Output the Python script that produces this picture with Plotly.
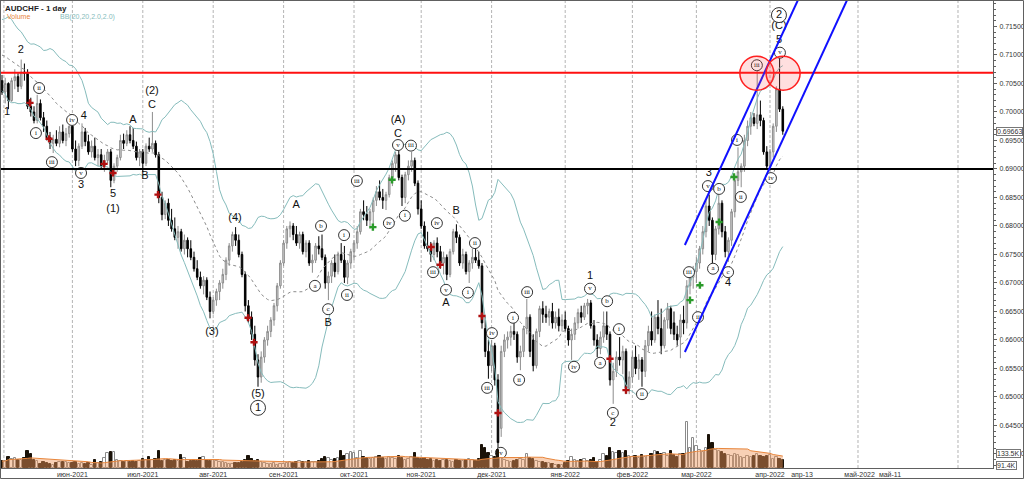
import plotly.graph_objects as go
import pandas as pd

# ---------------- DATA (daily bars, AUDCHF) : (open, high, low, close) ----------------
may21 = [(.7055,.7065,.7030,.7035),(.7035,.7060,.7015,.7050),(.7050,.7052,.7005,.7020),(.7020,.7060,.7018,.7055),
         (.7055,.7075,.7040,.7062),(.7062,.7068,.7035,.7045),(.7045,.7092,.7040,.7070),(.7070,.7085,.7055,.7068),
         (.7068,.7075,.7005,.7010),(.7010,.7025,.6992,.7000),(.7000,.7010,.6980,.6985),(.6985,.7030,.6980,.7015),
         (.7015,.7022,.6985,.6990),(.6990,.7000,.6965,.6975),(.6975,.6985,.6950,.6955),(.6955,.6965,.6935,.6945),
         (.6945,.6960,.6928,.6952),(.6952,.6968,.6940,.6945),(.6945,.6975,.6938,.6965),(.6965,.6978,.6945,.6950),
         (.6950,.6972,.6940,.6962),(.6962,.6976,.6955,.6975)]
jun21 = [(.6975,.6978,.6930,.6935),(.6935,.6950,.6905,.6915),(.6915,.6945,.6905,.6940),(.6940,.6980,.6935,.6965),
         (.6965,.6972,.6940,.6948),(.6948,.6960,.6925,.6930),(.6930,.6950,.6920,.6940),(.6940,.6955,.6915,.6920),
         (.6920,.6935,.6905,.6925),(.6925,.6935,.6900,.6905),(.6905,.6925,.6895,.6915),(.6915,.6935,.6910,.6930),
         (.6930,.6935,.6868,.6880),(.6880,.6910,.6875,.6905),(.6905,.6925,.6895,.6920),(.6920,.6960,.6915,.6950),
         (.6950,.6962,.6935,.6945),(.6945,.6968,.6940,.6960),(.6960,.6975,.6945,.6950),(.6950,.6972,.6935,.6940),
         (.6940,.6948,.6915,.6920),(.6920,.6935,.6905,.6930)]
jul21 = [(.6930,.6935,.6895,.6910),(.6910,.6945,.6905,.6940),(.6940,.6955,.6930,.6935),(.6935,.7000,.6930,.6945),
         (.6945,.6950,.6920,.6925),(.6925,.6930,.6840,.6850),(.6850,.6860,.6810,.6820),(.6820,.6845,.6812,.6840),
         (.6840,.6848,.6800,.6810),(.6810,.6830,.6790,.6795),(.6795,.6815,.6775,.6780),(.6780,.6800,.6760,.6790),
         (.6790,.6795,.6755,.6760),(.6760,.6785,.6750,.6775),(.6775,.6780,.6745,.6760),(.6760,.6775,.6740,.6745),
         (.6745,.6755,.6720,.6725),(.6725,.6740,.6705,.6710),(.6710,.6720,.6690,.6695),(.6695,.6712,.6680,.6705),
         (.6705,.6710,.6670,.6675),(.6675,.6685,.6638,.6650)]
aug21 = [(.6650,.6675,.6645,.6670),(.6670,.6690,.6660,.6685),(.6685,.6705,.6670,.6700),(.6700,.6725,.6690,.6715),
         (.6715,.6745,.6705,.6740),(.6740,.6770,.6730,.6765),(.6765,.6790,.6755,.6785),(.6785,.6798,.6765,.6775),
         (.6775,.6785,.6745,.6750),(.6750,.6755,.6710,.6715),(.6715,.6720,.6650,.6660),(.6660,.6670,.6630,.6640),
         (.6640,.6650,.6600,.6610),(.6610,.6625,.6555,.6565),(.6565,.6575,.6518,.6535),(.6535,.6580,.6525,.6570),
         (.6570,.6605,.6560,.6600),(.6600,.6625,.6590,.6615),(.6615,.6640,.6605,.6635),(.6635,.6665,.6625,.6660),
         (.6660,.6700,.6650,.6695),(.6695,.6740,.6690,.6735)]
sep21 = [(.6735,.6775,.6730,.6770),(.6770,.6800,.6760,.6795),(.6795,.6808,.6780,.6800),(.6800,.6805,.6775,.6785),
         (.6785,.6800,.6765,.6770),(.6770,.6790,.6760,.6785),(.6785,.6790,.6750,.6755),(.6755,.6775,.6745,.6770),
         (.6770,.6775,.6730,.6735),(.6735,.6750,.6718,.6740),(.6740,.6770,.6735,.6765),(.6765,.6782,.6750,.6760),
         (.6760,.6785,.6740,.6745),(.6745,.6750,.6690,.6700),(.6700,.6720,.6670,.6712),(.6712,.6740,.6700,.6735),
         (.6735,.6750,.6710,.6720),(.6720,.6755,.6715,.6750),(.6750,.6770,.6735,.6740),(.6740,.6765,.6700,.6710),
         (.6710,.6740,.6698,.6735),(.6735,.6760,.6725,.6755)]
oct21 = [(.6755,.6775,.6740,.6770),(.6770,.6800,.6760,.6790),(.6790,.6830,.6785,.6825),(.6825,.6845,.6810,.6820),
         (.6820,.6835,.6800,.6810),(.6810,.6830,.6795,.6825),(.6825,.6850,.6800,.6845),(.6845,.6870,.6835,.6860),
         (.6860,.6880,.6845,.6850),(.6850,.6865,.6830,.6845),(.6845,.6860,.6828,.6855),(.6855,.6890,.6850,.6885),
         (.6885,.6915,.6870,.6910),(.6910,.6930,.6895,.6925),(.6925,.6932,.6880,.6885),(.6885,.6890,.6835,.6850),
         (.6850,.6895,.6840,.6890),(.6890,.6915,.6880,.6905),(.6905,.6930,.6895,.6915),(.6915,.6920,.6870,.6875),
         (.6875,.6880,.6820,.6830)]
nov21 = [(.6830,.6845,.6795,.6800),(.6800,.6808,.6760,.6765),(.6765,.6790,.6755,.6760),(.6760,.6772,.6737,.6750),
         (.6750,.6775,.6740,.6770),(.6770,.6780,.6745,.6755),(.6755,.6765,.6725,.6735),(.6735,.6755,.6715,.6745),
         (.6745,.6750,.6705,.6715),(.6715,.6760,.6710,.6755),(.6755,.6795,.6750,.6790),(.6790,.6803,.6770,.6780),
         (.6780,.6785,.6730,.6735),(.6735,.6760,.6725,.6750),(.6750,.6755,.6715,.6720),(.6720,.6740,.6700,.6735),
         (.6735,.6760,.6725,.6745),(.6745,.6760,.6735,.6740),(.6740,.6755,.6725,.6730),(.6730,.6735,.6620,.6630),
         (.6620,.6640,.6570,.6580),(.6580,.6600,.6532,.6555)]
dec21 = [(.6555,.6600,.6545,.6590),(.6590,.6595,.6520,.6530),(.6530,.6540,.6400,.6420),(.6445,.6590,.6430,.6580),
         (.6580,.6610,.6570,.6600),(.6600,.6615,.6585,.6605),(.6605,.6625,.6590,.6615),(.6615,.6640,.6600,.6610),
         (.6610,.6615,.6560,.6570),(.6570,.6590,.6547,.6580),(.6580,.6625,.6570,.6620),(.6620,.6672,.6610,.6640),
         (.6640,.6645,.6570,.6580),(.6600,.6610,.6545,.6555),(.6555,.6620,.6550,.6615),(.6615,.6660,.6605,.6655),
         (.6655,.6668,.6630,.6645),(.6645,.6660,.6630,.6640),(.6640,.6655,.6625,.6650),(.6650,.6665,.6620,.6630),
         (.6630,.6650,.6620,.6640),(.6640,.6655,.6615,.6625),(.6625,.6645,.6615,.6635)]
jan22 = [(.6635,.6650,.6615,.6620),(.6620,.6625,.6590,.6600),(.6600,.6620,.6565,.6610),(.6610,.6640,.6600,.6630),
         (.6630,.6655,.6620,.6648),(.6648,.6660,.6630,.6640),(.6640,.6665,.6635,.6660),(.6660,.6672,.6645,.6665),
         (.6665,.6670,.6620,.6625),(.6625,.6635,.6590,.6600),(.6600,.6610,.6570,.6585),(.6585,.6615,.6575,.6605),
         (.6605,.6650,.6595,.6625),(.6625,.6650,.6600,.6610),(.6610,.6615,.6520,.6530),(.6530,.6560,.6488,.6545),
         (.6545,.6580,.6535,.6570),(.6570,.6605,.6555,.6565),(.6565,.6590,.6540,.6580),(.6580,.6585,.6505,.6515),
         (.6515,.6545,.6505,.6535)]
feb22 = [(.6535,.6580,.6525,.6570),(.6570,.6590,.6540,.6550),(.6550,.6575,.6530,.6565),(.6565,.6570,.6518,.6545),
         (.6545,.6600,.6535,.6590),(.6590,.6625,.6580,.6615),(.6615,.6650,.6590,.6600),(.6600,.6645,.6595,.6640),
         (.6640,.6670,.6610,.6620),(.6620,.6655,.6575,.6590),(.6590,.6640,.6585,.6635),(.6635,.6665,.6620,.6655),
         (.6655,.6660,.6610,.6620),(.6630,.6650,.6600,.6610),(.6610,.6625,.6590,.6600),(.6605,.6645,.6568,.6635),
         (.6635,.6660,.6610,.6630),(.6630,.6705,.6620,.6695),(.6695,.6720,.6680,.6710),(.6710,.6730,.6690,.6720)]
mar22 = [(.6720,.6745,.6700,.6735),(.6735,.6765,.6725,.6760),(.6760,.6800,.6750,.6790),(.6790,.6845,.6780,.6835),
         (.6835,.6855,.6800,.6810),(.6810,.6815,.6735,.6750),(.6750,.6800,.6740,.6795),(.6795,.6855,.6785,.6840),
         (.6840,.6845,.6780,.6790),(.6790,.6800,.6745,.6755),(.6755,.6780,.6737,.6775),(.6775,.6830,.6765,.6825),
         (.6825,.6890,.6815,.6880),(.6880,.6938,.6870,.6895),(.6895,.6910,.6868,.6905),(.6905,.6960,.6895,.6950),
         (.6950,.6985,.6940,.6975),(.6975,.7000,.6960,.6990),(.6990,.6998,.6975,.6980),(.6980,.7072,.6970,.6995),
         (.6995,.7020,.6975,.6985),(.6985,.6990,.6925,.6930),(.6930,.6940,.6900,.6905)]
apr22 = [(.6905,.6935,.6896,.6930),(.6930,.6980,.6920,.6975),(.6975,.7045,.6965,.7040),(.7040,.7095,.7000,.7005),
         (.7005,.7010,.6960,.69663)]

# tick volume, thousands
volumes = [78,78,123,101,112,90,90,112,190,157,90,78,45,67,56,45,34,56,67,67,67,56,
           56,67,45,56,45,56,34,90,56,67,112,168,179,179,90,78,67,78,67,78,67,78,
           101,90,123,90,101,190,78,90,90,78,90,78,146,112,67,78,90,78,112,123,90,78,
           90,78,67,67,56,45,45,56,56,67,90,134,101,78,90,67,56,45,45,56,34,45,
           45,56,67,56,67,78,67,67,78,67,67,78,101,123,112,90,101,112,190,134,157,179,
           168,112,190,123,112,101,112,123,134,112,101,123,112,101,134,112,90,101,123,168,112,
           101,112,90,101,78,90,78,90,90,78,67,90,78,78,90,101,90,78,101,258,224,168,
           134,123,202,112,90,78,67,78,90,101,90,157,112,101,78,67,67,56,56,45,34,34,34,
           56,78,123,90,78,90,101,78,90,112,67,90,157,134,224,179,168,190,168,190,134,
           123,134,112,146,123,134,157,190,179,157,168,134,190,146,123,157,157,515,224,336,
           246,202,179,224,370,280,202,190,175,160,150,140,154,145,120,110,130,120,140,160,130,120,140,
           150,105,125,105,91.4]

# April-2021 closes preceding the window (only feed the Bollinger bands)
warmup_closes = [0.7090,0.7110,0.7135,0.7150,0.7140,0.7120,0.7130,0.7145,0.7120,0.7100,
                 0.7085,0.7095,0.7110,0.7080,0.7060,0.7075,0.7090,0.7070,0.7055]

# x-axis labels (bar index positions) and month grid
tick_pos = [22, 44, 66, 88, 110, 131, 153, 176, 197, 217, 240, 250, 268, 277.5]
tick_txt = ["июн-2021","июл-2021","авг-2021","сен-2021","окт-2021","ноя-2021","дек-2021",
            "янв-2022","фев-2022","мар-2022","апр-2022","апр-13","май-2022","май-11"]
grid_pos = [0.6, 22, 44, 66, 88, 110, 131, 153, 176, 197, 217, 240, 267.5, 298.75]

# horizontal levels and channel
resistance = 0.7069
support = 0.6900
chan_upper = [(213.4, 0.67667), (248.75, 0.71965)]
chan_lower = [(213.4, 0.65789), (264.1, 0.71965)]
circles = [(235.9, 0.7068), (244.1, 0.7068)]

# wave labels
lab_x = [5.9,1.6,25.6,24.7,34.7,34.7,40.9,44.7,46.9,46.9,65.6,72.8,80,91.9,101.9,123.75,123.75,138.75,141.9,183.75,190.9,220.9,226.9,242.8,242.8]
lab_y = [.7109,.7000,.6993,.6872,.6856,.6830,.6986,.6888,.7036,.7011,.6614,.6814,.6505,.6837,.6630,.6985,.6961,.6665,.6825,.6711,.6454,.6893,.6700,.7150,.7125]
lab_t = ["2","1","4","3","5","(1)","A","B","(2)","C","(3)","(4)","(5)","A","B","(A)","C","A","B","1","2","3","4","(C)","5"]

big_x = [242.8, 80]
big_y = [.7170, .6481]
big_t = ["2", "1"]

rom_x = [11.6,10.6,15.6,21.9,24.7,97.8,99.7,101.9,106.9,107.8,110.9,120.9,123.75,127.8,125.9,135.9,134.7,138.75,147.8,145.6,
         153.1,151.6,155.9,159.7,161.6,164.1,178.75,183.75,186.9,189.1,192.8,190.9,200,214.7,217.5,222.2,226.9,220.6,224.1,229.7,
         230.9,235.9,240.3,243.1]
rom_y = [.7042,.6963,.6912,.6986,.6893,.6695,.6800,.6654,.6784,.6679,.6879,.6805,.6942,.6941,.6818,.6805,.6719,.6688,.6770,.6683,
         .6612,.6516,.6402,.6639,.6530,.6684,.6553,.6690,.6560,.6668,.6619,.6472,.6505,.6719,.6640,.6725,.6719,.6870,.6865,.6951,
         .6851,.7082,.6884,.7104]
rom_t = ["ii","i","iii","iv","v","a","b","c","i","ii","iii","iv","v","iii","i","iv","iii","v","ii","i",
         "iv","iii","v","i","ii","iii","iv","v","a","b","i","c","ii","iii","ii","a","c","v","b","i",
         "ii","iii","iv","v"]

red_x = [8.75,14.7,31.9,34.7,48.75,76.9,78.75,134.1,136.9,150,155,190,195]
red_y = [.7016,.6953,.6909,.6893,.6855,.6639,.6596,.6763,.6732,.6642,.6472,.6567,.6512]
grn_x = [115.9,121.9,215,218.1,224.1,228.75]
grn_y = [.6798,.6881,.6670,.6696,.6807,.6886]

# ---------------- BUILD ----------------
bars = may21 + jun21 + jul21 + aug21 + sep21 + oct21 + nov21 + dec21 + jan22 + feb22 + mar22 + apr22
opens = [b[0] for b in bars]
highs = [b[1] for b in bars]
lows = [b[2] for b in bars]
closes = [b[3] for b in bars]
n = len(bars)
assert len(volumes) == n, (len(volumes), n)
xi = list(range(n))

s = pd.Series(warmup_closes + closes)
k = len(warmup_closes)
m20 = s.rolling(20).mean()
sd = s.rolling(20).std(ddof=0)
mid = m20.iloc[k:].tolist()
up = (m20 + 2 * sd).iloc[k:].tolist()
lo = (m20 - 2 * sd).iloc[k:].tolist()
vma = pd.Series(volumes).rolling(20, min_periods=1).mean().tolist()

fig = go.Figure()

# volume
vcol = ["#ffffff" if c >= o else "#1a1208" for o, c in zip(opens, closes)]
vline = ["#8a8a8a" if c >= o else "#1a1208" for o, c in zip(opens, closes)]
fig.add_trace(go.Bar(x=xi, y=volumes, yaxis="y2", width=0.7,
                     marker=dict(color=vcol, line=dict(color=vline, width=1)), showlegend=False))
fig.add_trace(go.Scatter(x=xi, y=vma, yaxis="y2", mode="lines", fill="tozeroy",
                         fillcolor="rgba(240,150,90,0.45)", line=dict(color="#e8863c", width=1),
                         showlegend=False))

# Bollinger
fig.add_trace(go.Scatter(x=xi, y=up, mode="lines", line=dict(color="#86bcbc", width=1), showlegend=False))
fig.add_trace(go.Scatter(x=xi, y=lo, mode="lines", line=dict(color="#86bcbc", width=1), showlegend=False))
fig.add_trace(go.Scatter(x=xi, y=mid, mode="lines", line=dict(color="#8c8c8c", width=1, dash="dot"), showlegend=False))

# candles
fig.add_trace(go.Candlestick(x=xi, open=opens, high=highs, low=lows, close=closes,
                             increasing=dict(fillcolor="#d4d4d4", line=dict(color="#8c8c8c", width=1)),
                             decreasing=dict(fillcolor="#000000", line=dict(color="#000000", width=1)),
                             whiskerwidth=0, showlegend=False))

# signal crosses
fig.add_trace(go.Scatter(x=red_x, y=red_y, mode="markers",
                         marker=dict(symbol="cross", size=6, color="#b01010"), showlegend=False))
fig.add_trace(go.Scatter(x=grn_x, y=grn_y, mode="markers",
                         marker=dict(symbol="cross", size=6, color="#2a9a2a"), showlegend=False))

# wave labels
fig.add_trace(go.Scatter(x=lab_x, y=lab_y, mode="text", text=lab_t,
                         textfont=dict(family="Liberation Sans, Arial", size=11, color="#111111"),
                         showlegend=False))
fig.add_trace(go.Scatter(x=rom_x, y=rom_y, mode="markers+text", text=rom_t, textposition="middle center",
                         marker=dict(symbol="circle", size=11, color="white", line=dict(color="#333", width=1)),
                         textfont=dict(family="Liberation Serif, Times New Roman", size=7, color="#111111"),
                         showlegend=False))
fig.add_trace(go.Scatter(x=big_x, y=big_y, mode="markers+text", text=big_t, textposition="middle center",
                         marker=dict(symbol="circle", size=15, color="white", line=dict(color="#333", width=1)),
                         textfont=dict(family="Liberation Sans, Arial", size=11, color="#111111"),
                         showlegend=False))

shapes = []
for g in grid_pos:
    shapes.append(dict(type="line", xref="x", yref="paper", x0=g, x1=g, y0=0, y1=1, layer="below",
                       line=dict(color="#b4b4b4", width=1, dash="3px,2px")))
shapes.append(dict(type="line", xref="paper", yref="y", x0=0, x1=1, y0=resistance, y1=resistance,
                   line=dict(color="#ff1010", width=2)))
shapes.append(dict(type="line", xref="paper", yref="y", x0=0, x1=1, y0=support, y1=support,
                   line=dict(color="#000000", width=2)))
for (a, b) in (chan_upper, chan_lower):
    shapes.append(dict(type="line", xref="x", yref="y", x0=a[0], y0=a[1], x1=b[0], y1=b[1],
                       line=dict(color="#1010ff", width=2)))
for (cx, cy) in circles:
    shapes.append(dict(type="circle", xref="x", yref="y", xsizemode="pixel", ysizemode="pixel",
                       xanchor=cx, yanchor=cy, x0=-17, x1=17, y0=-17, y1=17,
                       fillcolor="rgba(255,80,80,0.18)", line=dict(color="#ff2020", width=1.5)))
# outer frame
W, H, L, R, T, B = 1024, 479, 1, 31, 1, 11
pw, ph = W - L - R, H - T - B
shapes.append(dict(type="rect", xref="paper", yref="paper",
                   x0=(0.5 - L) / pw, x1=(W - 0.5 - L) / pw, y0=1 - (H - 0.5 - T) / ph, y1=1 + (T - 0.5) / ph,
                   line=dict(color="#606060", width=1), fillcolor="rgba(0,0,0,0)"))

fnt = "Liberation Sans, Arial"
annotations = [
    dict(xref="paper", yref="paper", x=2 / pw, y=1 - 1 / ph, xanchor="left", yanchor="top",
         text="<b>AUDCHF - 1 day</b>", showarrow=False, font=dict(size=8, color="#222", family=fnt)),
    dict(xref="paper", yref="paper", x=4 / pw, y=1 - 10 / ph, xanchor="left", yanchor="top",
         text="Volume", showarrow=False, font=dict(size=7, color="#e8863c", family=fnt)),
    dict(xref="paper", yref="paper", x=57 / pw, y=1 - 10 / ph, xanchor="left", yanchor="top",
         text="BB(20,20,2.0,2.0)", showarrow=False, font=dict(size=7, color="#86bcbc", family=fnt)),
    dict(xref="paper", yref="y", x=1.003, y=closes[-1], xanchor="left", yanchor="middle",
         text=f"{closes[-1]:.5f}", showarrow=False, bgcolor="white", bordercolor="#777", borderwidth=1, borderpad=0,
         font=dict(size=7, color="#333", family=fnt)),
    dict(xref="paper", yref="y2", x=1.003, y=vma[-1] + 30, xanchor="left", yanchor="middle",
         text=f"{vma[-1]:.1f}K", showarrow=False, bgcolor="white", bordercolor="#777", borderwidth=1, borderpad=0,
         font=dict(size=7, color="#333", family=fnt)),
    dict(xref="paper", yref="y2", x=1.003, y=30, xanchor="left", yanchor="middle",
         text=f"{volumes[-1]:.1f}K", showarrow=False, bgcolor="white", bordercolor="#777", borderwidth=1, borderpad=0,
         font=dict(size=7, color="#333", family=fnt)),
]

fig.update_layout(
    width=W, height=H, margin=dict(l=L, r=R, t=T, b=B, autoexpand=False),
    paper_bgcolor="white", plot_bgcolor="white", showlegend=False,
    shapes=shapes, annotations=annotations, bargap=0,
    xaxis=dict(range=[-0.3125, 309.69], tickvals=tick_pos, ticktext=tick_txt, showgrid=False, zeroline=False,
               rangeslider=dict(visible=False), showline=True, linecolor="#606060", mirror=True,
               ticks="", tickangle=0, automargin=False, ticklabelstandoff=0,
               tickfont=dict(size=7, color="#333", family=fnt)),
    yaxis=dict(range=[0.63754, 0.71947], side="right", dtick=0.005, tick0=0.64, tickformat=".5f",
               showgrid=False, zeroline=False, showline=True, linecolor="#606060", mirror=True,
               ticks="outside", ticklen=3, tickcolor="#606060", automargin=False, ticklabelstandoff=1,
               minor=dict(dtick=0.001, ticks="outside", ticklen=2, tickcolor="#606060"),
               tickfont=dict(size=7, color="#333", family=fnt)),
    yaxis2=dict(range=[0, 5230], overlaying="y", visible=False, showgrid=False, zeroline=False),
)

fig.write_html("out.html", config={"displayModeBar": False},
               post_script="document.body.style.margin='0';document.body.style.overflow='hidden';")
